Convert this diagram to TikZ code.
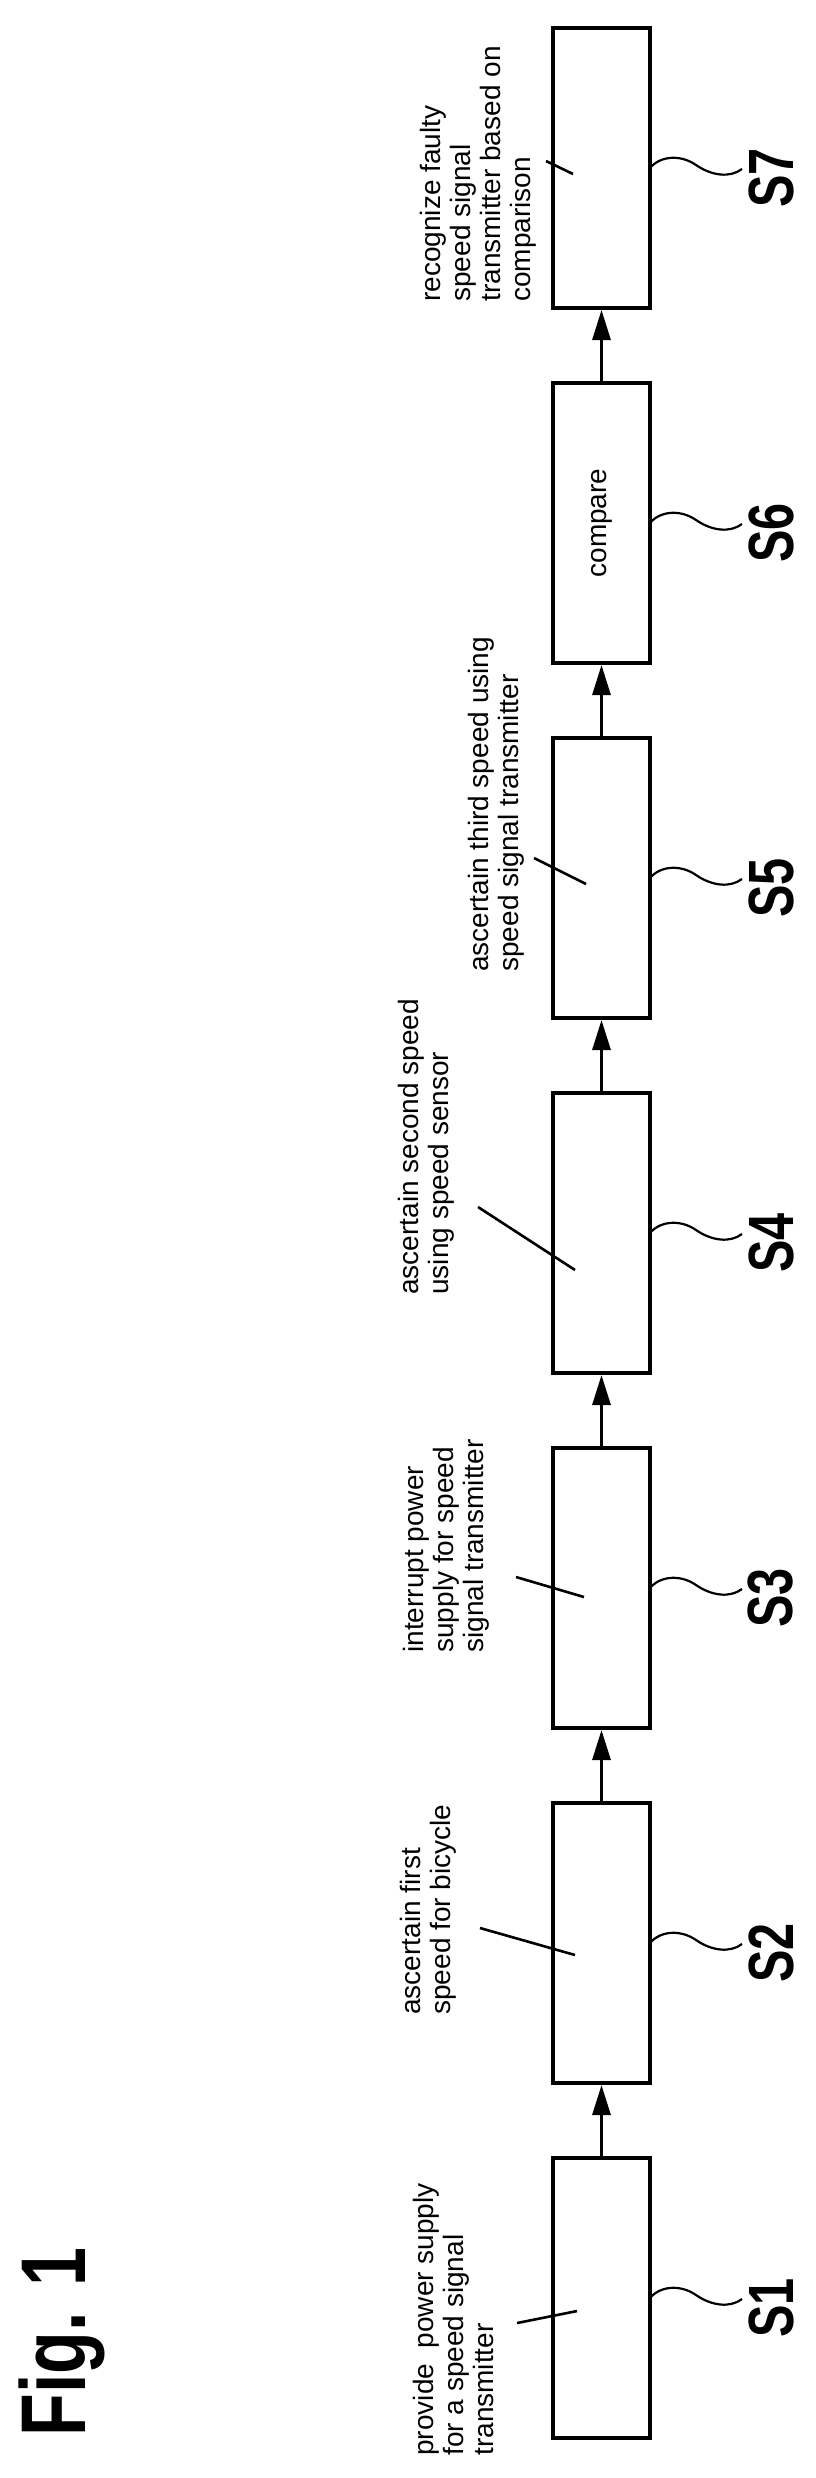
\documentclass[tikz,border=0pt]{standalone}
\usepackage{fontspec}
\setmainfont{Liberation Sans}
\usetikzlibrary{arrows.meta}
\tikzset{
  stepbox/.style={draw,line width=2pt,minimum width=48.5pt,minimum height=140pt,inner sep=0pt},
  arr/.style={line width=1.5pt,-{Triangle[length=15pt,width=9pt]}},
  leader/.style={line width=1.3pt},
  wave/.style={line width=1.1pt},
  txt/.style={rotate=90,anchor=north west,align=left,inner sep=0pt,font=\fontsize{14pt}{15pt}\selectfont},
  steplabel/.style={rotate=90,inner sep=0pt,font=\fontsize{32pt}{32pt}\selectfont\bfseries}
}
\begin{document}
\begin{tikzpicture}[x=0.5pt,y=-0.5pt]
\useasboundingbox (0,0) rectangle (815,2478);
\foreach \i in {1,...,7}{
  \pgfmathsetmacro{\t}{2158-355*(\i-1)}
  \ifnum\i=6
    \node[stepbox] (b\i) at (601.5,\t+140) {\rotatebox{90}{\fontsize{14pt}{15pt}\selectfont compare}};
  \else
    \node[stepbox] (b\i) at (601.5,\t+140) {};
  \fi
  \node[steplabel] (l\i) at (771,\t+150) {\scalebox{0.76}[1]{S\i}};
  \coordinate (w\i) at (742,\t+141);
  \draw[wave] (650,\t+140) .. controls (660,\t+128) and (680,\t+126) .. (696,\t+137) .. controls (712,\t+148) and (730,\t+150) .. (w\i);
}
\foreach \i [evaluate=\i as \j using int(\i+1)] in {1,...,6}{
  \draw[arr] (b\i.north) -- (b\j.south);
}
\node[rotate=90,anchor=north west,inner sep=0pt,font=\fontsize{46pt}{46pt}\selectfont\bfseries] (fig) at (18,2437) {\scalebox{0.76}[1]{Fig. 1}};
\node[txt] (t1) at (413,2456) {provide\ \ power supply\\for a speed signal\\transmitter};
\node[txt] (t2) at (400,2015) {ascertain first\\speed for bicycle};
\node[txt] (t3) at (403,1653) {interrupt power\\supply for speed\\signal transmitter};
\node[txt] (t4) at (398,1295) {ascertain second speed\\using speed sensor};
\node[txt] (t5) at (468,972) {ascertain third speed using\\speed signal transmitter};
\node[txt] (t7) at (420,302) {recognize faulty\\speed signal\\transmitter based on\\comparison};
\draw[leader] (517,2323) -- (577,2311);
\draw[leader] (480,1928) -- (575,1955);
\draw[leader] (516,1577) -- (584,1597);
\draw[leader] (478,1207) -- (575,1270);
\draw[leader] (534,858) -- (586,884);
\draw[leader] (546,161) -- (573,174);
\end{tikzpicture}
\end{document}
